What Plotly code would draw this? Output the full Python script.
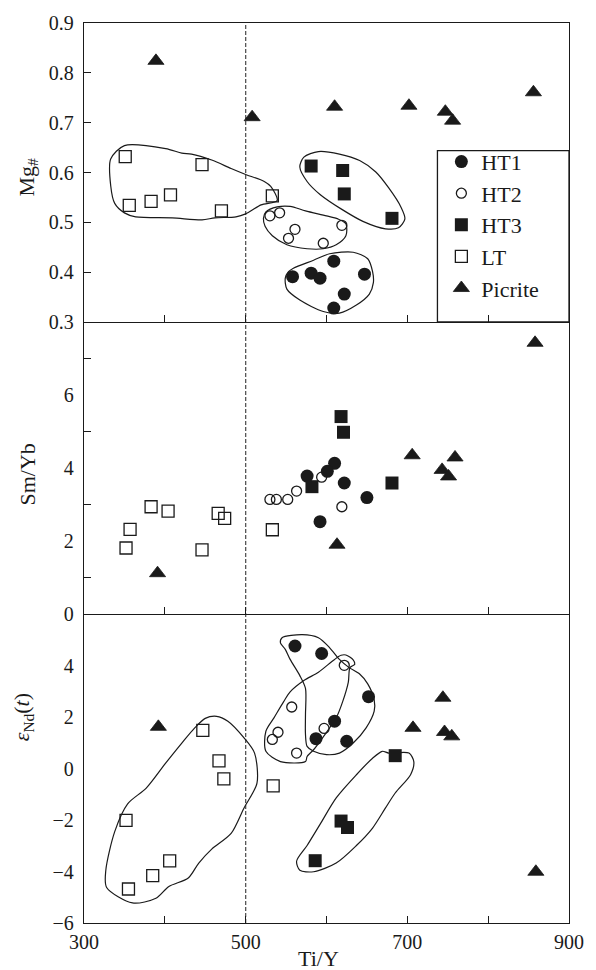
import plotly.graph_objects as go
from plotly.subplots import make_subplots

# ---------------- data ----------------
# Top panel: Mg# vs Ti/Y
ht1_ti_mg = [558, 581, 592, 609, 647, 622, 609]
ht1_mg = [0.391, 0.398, 0.388, 0.422, 0.396, 0.356, 0.328]
ht2_ti_mg = [530, 542, 561, 553, 596, 619]
ht2_mg = [0.513, 0.519, 0.486, 0.468, 0.458, 0.494]
ht3_ti_mg = [581, 620, 622, 681]
ht3_mg = [0.613, 0.604, 0.557, 0.508]
lt_ti_mg = [351, 356, 383, 407, 446, 470, 533]
lt_mg = [0.632, 0.534, 0.542, 0.555, 0.616, 0.523, 0.553]
pic_ti_mg = [389, 508, 610, 702, 747, 756, 856]
pic_mg = [0.824, 0.711, 0.732, 0.734, 0.722, 0.704, 0.761]

# Middle panel: Sm/Yb vs Ti/Y
ht1_ti_sm = [576, 610, 601, 622, 650, 592]
ht1_sm = [3.78, 4.13, 3.91, 3.59, 3.19, 2.53]
ht2_ti_sm = [530, 538, 552, 563, 594, 619]
ht2_sm = [3.14, 3.14, 3.14, 3.37, 3.75, 2.94]
ht3_ti_sm = [618, 621, 681, 582]
ht3_sm = [5.41, 4.98, 3.59, 3.49]
lt_ti_sm = [533, 352, 357, 383, 404, 446, 466, 474]
lt_sm = [2.31, 1.81, 2.32, 2.94, 2.82, 1.76, 2.76, 2.62]
pic_ti_sm = [391, 613, 706, 743, 751, 759, 858]
pic_sm = [1.12, 1.90, 4.35, 3.95, 3.77, 4.29, 7.43]

# Bottom panel: eNd(t) vs Ti/Y
ht1_ti_nd = [561, 594, 652, 610, 587, 625]
ht1_nd = [4.76, 4.47, 2.79, 1.84, 1.16, 1.06]
ht2_ti_nd = [622, 557, 540, 533, 597, 563]
ht2_nd = [4.01, 2.39, 1.41, 1.13, 1.56, 0.60]
ht3_ti_nd = [685, 618, 626, 586]
ht3_nd = [0.50, -2.04, -2.29, -3.58]
lt_ti_nd = [534, 447, 467, 473, 352, 406, 385, 355]
lt_nd = [-0.67, 1.48, 0.30, -0.40, -2.01, -3.59, -4.16, -4.68]
pic_ti_nd = [744, 707, 746, 755, 392, 859]
pic_nd = [2.75, 1.58, 1.42, 1.25, 1.62, -4.01]

# Field outlines (Ti/Y, value)
lt_field_mg_x = [333, 350, 401, 421, 433, 458, 482, 500, 523, 531, 539, 519, 500, 488, 462, 446, 409, 364, 350, 338, 333]
lt_field_mg_y = [0.627, 0.654, 0.648, 0.639, 0.637, 0.625, 0.608, 0.596, 0.582, 0.572, 0.544, 0.535, 0.517, 0.511, 0.509, 0.505, 0.509, 0.511, 0.519, 0.538, 0.574]
ht2_field_mg_x = [525, 539, 555, 574, 600, 614, 624, 624, 612, 596, 576, 551, 533, 524, 522]
ht2_field_mg_y = [0.521, 0.531, 0.532, 0.523, 0.513, 0.507, 0.497, 0.473, 0.455, 0.447, 0.447, 0.455, 0.473, 0.492, 0.508]
ht3_field_mg_x = [572, 590, 616, 641, 661, 677, 692, 697, 689, 673, 645, 620, 592, 576, 567]
ht3_field_mg_y = [0.631, 0.642, 0.637, 0.624, 0.601, 0.569, 0.531, 0.507, 0.489, 0.487, 0.502, 0.525, 0.556, 0.582, 0.611]
ht1_field_mg_x = [559, 584, 604, 633, 651, 657, 658, 653, 637, 616, 596, 567, 551, 549, 553]
ht1_field_mg_y = [0.408, 0.424, 0.437, 0.440, 0.427, 0.401, 0.379, 0.356, 0.334, 0.318, 0.321, 0.344, 0.366, 0.388, 0.401]

lt_field_nd_x = [354, 377, 401, 421, 437, 450, 464, 478, 498, 511, 514, 498, 482, 458, 442, 429, 405, 389, 360, 328, 327, 338]
lt_field_nd_y = [-1.37, -0.76, 0.21, 0.99, 1.58, 1.95, 2.03, 1.84, 1.19, 0.60, -0.57, -1.53, -2.52, -3.13, -3.67, -4.25, -4.58, -5.04, -5.22, -4.62, -3.95, -2.45]
ht1_field_nd_x = [545, 570, 590, 604, 616, 628, 641, 651, 659, 659, 649, 633, 616, 600, 584, 576, 574, 574, 574, 567, 555, 549, 543]
ht1_field_nd_y = [5.08, 5.20, 5.08, 4.69, 4.24, 3.92, 3.67, 3.29, 2.67, 2.23, 1.58, 0.99, 0.60, 0.54, 0.67, 0.86, 1.32, 2.10, 3.11, 3.61, 4.24, 4.63, 4.88]
ht2_field_nd_x = [624, 633, 635, 629, 627, 620, 612, 598, 584, 576, 574, 543, 525, 525, 535, 547, 555, 572, 590, 610, 618]
ht2_field_nd_y = [4.41, 4.22, 4.05, 3.92, 3.36, 2.60, 1.97, 1.32, 0.73, 0.47, 0.27, 0.27, 0.67, 1.45, 1.97, 2.60, 2.98, 3.42, 3.74, 4.24, 4.40]
ht3_field_nd_x = [677, 702, 708, 704, 685, 673, 657, 637, 612, 584, 567, 563, 576, 592, 612, 637, 657, 669]
ht3_field_nd_y = [0.60, 0.60, 0.27, -0.24, -0.95, -1.53, -2.31, -2.99, -3.67, -4.01, -3.95, -3.60, -2.99, -2.17, -1.14, -0.24, 0.40, 0.67]

x_tickvals = [300, 500, 700, 900]
mg_ticks = [0.3, 0.4, 0.5, 0.6, 0.7, 0.8, 0.9]
sm_ticks = [0, 2, 4, 6]
nd_ticks = [-6, -4, -2, 0, 2, 4]
boundary_ti_y = 500

# ---------------- figure ----------------
W, H = 596, 970
L, R, T, B = 84, 18, 14, 47
FONT = "Liberation Serif"
INK = "#1a1a1a"

fig = make_subplots(rows=3, cols=1, shared_xaxes=True, vertical_spacing=0,
                    row_heights=[302, 295, 312])

styles = {
    "HT1": dict(symbol="circle", size=13, color=INK),
    "HT2": dict(symbol="circle-open", size=10, color=INK, line=dict(width=1.3, color=INK)),
    "HT3": dict(symbol="square", size=13, color=INK),
    "LT": dict(symbol="square-open", size=12, color=INK, line=dict(width=1.3, color=INK)),
    "Picrite": dict(symbol="triangle-up", size=14, color=INK, line=dict(width=0.8, color=INK)),
}


def outline(xs, ys, row):
    fig.add_trace(go.Scatter(x=xs + xs[:1], y=ys + ys[:1], mode="lines",
                             line=dict(color=INK, width=1.2, shape="spline", smoothing=0.8),
                             showlegend=False, hoverinfo="skip"), row=row, col=1)


outline(lt_field_mg_x, lt_field_mg_y, 1)
outline(ht2_field_mg_x, ht2_field_mg_y, 1)
outline(ht3_field_mg_x, ht3_field_mg_y, 1)
outline(ht1_field_mg_x, ht1_field_mg_y, 1)
outline(lt_field_nd_x, lt_field_nd_y, 3)
outline(ht1_field_nd_x, ht1_field_nd_y, 3)
outline(ht2_field_nd_x, ht2_field_nd_y, 3)
outline(ht3_field_nd_x, ht3_field_nd_y, 3)

panels = [
    (1, {"HT1": (ht1_ti_mg, ht1_mg), "HT2": (ht2_ti_mg, ht2_mg), "HT3": (ht3_ti_mg, ht3_mg),
         "LT": (lt_ti_mg, lt_mg), "Picrite": (pic_ti_mg, pic_mg)}),
    (2, {"HT1": (ht1_ti_sm, ht1_sm), "HT2": (ht2_ti_sm, ht2_sm), "HT3": (ht3_ti_sm, ht3_sm),
         "LT": (lt_ti_sm, lt_sm), "Picrite": (pic_ti_sm, pic_sm)}),
    (3, {"HT1": (ht1_ti_nd, ht1_nd), "HT2": (ht2_ti_nd, ht2_nd), "HT3": (ht3_ti_nd, ht3_nd),
         "LT": (lt_ti_nd, lt_nd), "Picrite": (pic_ti_nd, pic_nd)}),
]
for row, groups in panels:
    for name, (xs, ys) in groups.items():
        fig.add_trace(go.Scatter(x=xs, y=ys, mode="markers", name=name, legendgroup=name,
                                 marker=styles[name], showlegend=(row == 1)), row=row, col=1)

common = dict(showgrid=False, zeroline=False, tickcolor=INK, linecolor=INK, linewidth=1.3,
              tickfont=dict(family=FONT, size=20, color=INK))

for r in (1, 2, 3):
    fig.update_xaxes(row=r, col=1, range=[300, 900], tickvals=x_tickvals,
                     ticks="inside", ticklen=7, showline=True, mirror=(r == 1),
                     minor=dict(tick0=300, dtick=100, ticks="inside", ticklen=7, tickcolor=INK),
                     showticklabels=(r == 3), ticklabelstandoff=1, **common)

fig.update_yaxes(row=1, col=1, range=[0.3, 0.9], tickvals=mg_ticks,
                 ticktext=[f"{v:.1f}" for v in mg_ticks], ticks="inside", ticklen=7,
                 showline=True, mirror=True, ticklabelstandoff=5, **common)
fig.update_yaxes(row=2, col=1, range=[0, 8], tickvals=sm_ticks, ticks="",
                 minor=dict(tick0=1, dtick=2, ticks="inside", ticklen=7, tickcolor=INK),
                 showline=True, mirror=True, ticklabelstandoff=5, **common)
fig.update_yaxes(row=3, col=1, range=[-6, 6], tickvals=nd_ticks, ticks="",
                 showline=True, mirror=True, ticklabelstandoff=5, **common)

pw, ph = W - L - R, H - T - B


def px_x(p):
    return (p - L) / pw


def px_y(p):
    return (H - B - p) / ph


fig.add_shape(type="line", xref="x", yref="paper", x0=boundary_ti_y, x1=boundary_ti_y, y0=0, y1=1,
              line=dict(color="#555", width=1.3, dash="4px,2px"), layer="below")
fig.add_shape(type="rect", xref="paper", yref="paper", x0=px_x(444), x1=1,
              y0=px_y(316), y1=px_y(143), line=dict(color=INK, width=1.3))

title_font = dict(family=FONT, size=22, color=INK)
fig.add_annotation(text="Mg<sub>#</sub>", xref="paper", yref="paper", x=px_x(27), y=px_y(170),
                   textangle=-90, showarrow=False, font=title_font, xanchor="center", yanchor="middle")
fig.add_annotation(text="Sm/Yb", xref="paper", yref="paper", x=px_x(26), y=px_y(470),
                   textangle=-90, showarrow=False, font=title_font, xanchor="center", yanchor="middle")
fig.add_annotation(text="<i>ε</i><sub>Nd</sub>(<i>t</i>)", xref="paper", yref="paper", x=px_x(22),
                   y=px_y(715), textangle=-90, showarrow=False, font=title_font,
                   xanchor="center", yanchor="middle")
fig.add_annotation(text="Ti/Y", xref="paper", yref="paper", x=px_x(323), y=px_y(959),
                   showarrow=False, font=title_font, xanchor="center", yanchor="middle")

fig.update_layout(
    width=W, height=H, margin=dict(l=L, r=R, t=T, b=B),
    paper_bgcolor="white", plot_bgcolor="white",
    legend=dict(x=px_x(448), y=px_y(133), xanchor="left", yanchor="top",
                font=dict(family=FONT, size=22, color=INK), bgcolor="rgba(0,0,0,0)",
                borderwidth=0, tracegroupgap=0, itemwidth=30),
)

fig.write_html("out.html")
